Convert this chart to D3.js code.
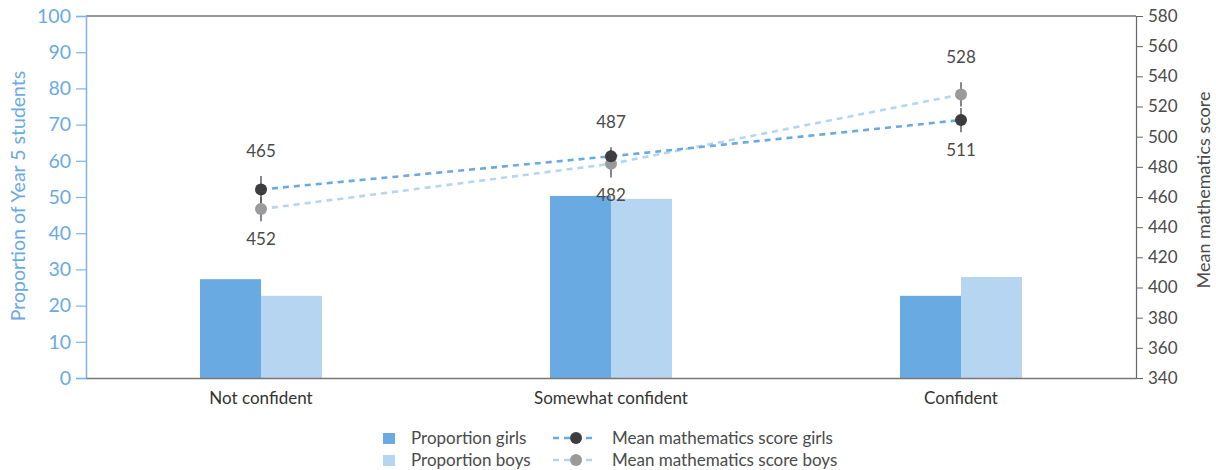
<!DOCTYPE html>
<html><head><meta charset="utf-8">
<script src="https://cdn.jsdelivr.net/npm/d3@7"></script>
<style>body{margin:0;background:#fff}svg{display:block;font-family:Lato,"Open Sans",sans-serif}</style>
</head><body><svg id="c" width="1216" height="470"></svg>
<script>
const categories = ["Not confident", "Somewhat confident", "Confident"];
const propGirls = [27.3, 50.3, 22.7];
const propBoys = [22.7, 49.5, 27.9];
const scoreGirls = [465, 487, 511];
const scoreBoys = [452, 482, 528];
const errGirls = [9, 6, 8];
const errBoys = [8, 9, 8];
const leftTicks = [0,10,20,30,40,50,60,70,80,90,100];
const rightTicks = [340,360,380,400,420,440,460,480,500,520,540,560,580];

const cGirl = "#6aaae3", cBoy = "#b6d5f1", dGirl = "#3d3d3f", dBoy = "#9a9a9c";
const txt = "#4a4a4a";
const svg = d3.select("#c");
const L = 86, R = 1136, T = 16, B = 378;
const x = d3.scaleBand().domain(categories).range([L, R]);
const yL = d3.scaleLinear().domain([0, 100]).range([B, T]);
const yR = d3.scaleLinear().domain([340, 580]).range([B, T]);
const bw = 61;

svg.append("line").attr("x1", L).attr("x2", R).attr("y1", T).attr("y2", T).attr("stroke", "#777").attr("stroke-width", 1.5);

const cx = d => x(d) + x.bandwidth() / 2;
svg.selectAll(".bg").data(categories).join("rect")
  .attr("x", d => cx(d) - bw).attr("width", bw)
  .attr("y", (d, i) => yL(propGirls[i])).attr("height", (d, i) => B - yL(propGirls[i]))
  .attr("fill", cGirl);
svg.selectAll(".bb").data(categories).join("rect")
  .attr("x", d => cx(d)).attr("width", bw)
  .attr("y", (d, i) => yL(propBoys[i])).attr("height", (d, i) => B - yL(propBoys[i]))
  .attr("fill", cBoy);

const gl = svg.append("g").attr("transform", `translate(${L},0)`)
  .call(d3.axisLeft(yL).tickValues(leftTicks).tickSize(10).tickPadding(5));
gl.select(".domain").attr("stroke", "#7fb3e3").attr("stroke-width", 1.5);
gl.selectAll(".tick line").attr("stroke", "#7fb3e3").attr("stroke-width", 1.2);
gl.selectAll(".tick text").attr("fill", "#6aaae3").style("font-size", "19.5px").style("font-family", "Lato,sans-serif");

const gr = svg.append("g").attr("transform", `translate(${R},0)`)
  .call(d3.axisRight(yR).tickValues(rightTicks).tickSize(7).tickPadding(5));
gr.select(".domain").attr("stroke", "#666").attr("stroke-width", 1.2);
gr.selectAll(".tick line").attr("stroke", "#666");
gr.selectAll(".tick text").attr("fill", txt).style("font-size", "17px").style("font-family", "Lato,sans-serif");

const gb = svg.append("g").attr("transform", `translate(0,${B})`)
  .call(d3.axisBottom(x).tickSize(0).tickPadding(14));
gb.select(".domain").attr("stroke", "#777").attr("stroke-width", 1.5);
gb.selectAll(".tick text").attr("fill", "#333").style("font-size", "17px").style("font-family", "Lato,sans-serif");

svg.append("text").attr("transform", `translate(25,${(T + B) / 2 - 1}) rotate(-90)`)
  .attr("text-anchor", "middle").attr("fill", "#6aaae3").style("font-size", "19.5px").text("Proportion of Year 5 students");
svg.append("text").attr("transform", `translate(1210,${(T + B) / 2 - 7}) rotate(-90)`)
  .attr("text-anchor", "middle").attr("fill", txt).style("font-size", "18px").text("Mean mathematics score");

const line = d3.line().x((d, i) => cx(categories[i])).y(d => yR(d));
svg.append("path").datum(scoreBoys).attr("d", line).attr("fill", "none")
  .attr("stroke", cBoy).attr("stroke-width", 2.6).attr("stroke-dasharray", "6,5");
svg.append("path").datum(scoreGirls).attr("d", line).attr("fill", "none")
  .attr("stroke", cGirl).attr("stroke-width", 2.6).attr("stroke-dasharray", "6,5");

function errs(vals, errArr) {
  svg.selectAll(null).data(vals).join("line")
    .attr("x1", (d, i) => cx(categories[i])).attr("x2", (d, i) => cx(categories[i]))
    .attr("y1", (d, i) => yR(d + errArr[i])).attr("y2", (d, i) => yR(d - errArr[i]))
    .attr("stroke", "#555").attr("stroke-width", 1.4);
}
errs(scoreGirls, errGirls);
errs(scoreBoys, errBoys);

svg.selectAll(null).data(scoreBoys).join("circle")
  .attr("cx", (d, i) => cx(categories[i])).attr("cy", d => yR(d)).attr("r", 6).attr("fill", dBoy);
svg.selectAll(null).data(scoreGirls).join("circle")
  .attr("cx", (d, i) => cx(categories[i])).attr("cy", d => yR(d)).attr("r", 6).attr("fill", dGirl);

categories.forEach((c, i) => {
  const pairs = [[scoreGirls[i], errGirls[i]], [scoreBoys[i], errBoys[i]]];
  const hi = pairs[0][0] >= pairs[1][0] ? pairs[0] : pairs[1];
  const lo = pairs[0][0] >= pairs[1][0] ? pairs[1] : pairs[0];
  svg.append("text").attr("x", cx(c)).attr("y", yR(hi[0] + hi[1]) - 19)
    .attr("text-anchor", "middle").attr("fill", txt).style("font-size", "17px").text(hi[0]);
  svg.append("text").attr("x", cx(c)).attr("y", yR(lo[0] - lo[1]) + 24)
    .attr("text-anchor", "middle").attr("fill", txt).style("font-size", "17px").text(lo[0]);
});

const lg = svg.append("g").style("font-size", "17px");
[["Proportion girls", cGirl], ["Proportion boys", cBoy]].forEach((d, i) => {
  const yy = 438 + i * 22;
  lg.append("rect").attr("x", 383).attr("y", yy - 5).attr("width", 12).attr("height", 11).attr("fill", d[1]);
  lg.append("text").attr("x", 411).attr("y", yy + 6).attr("fill", txt).text(d[0]);
});
[["Mean mathematics score girls", cGirl, dGirl], ["Mean mathematics score boys", cBoy, dBoy]].forEach((d, i) => {
  const yy = 438 + i * 22;
  lg.append("line").attr("x1", 553).attr("x2", 596).attr("y1", yy).attr("y2", yy)
    .attr("stroke", d[1]).attr("stroke-width", 2.6).attr("stroke-dasharray", "6,5");
  lg.append("circle").attr("cx", 576).attr("cy", yy).attr("r", 6).attr("fill", d[2]);
  lg.append("text").attr("x", 612).attr("y", yy + 6).attr("fill", txt).text(d[0]);
});
</script></body></html>
